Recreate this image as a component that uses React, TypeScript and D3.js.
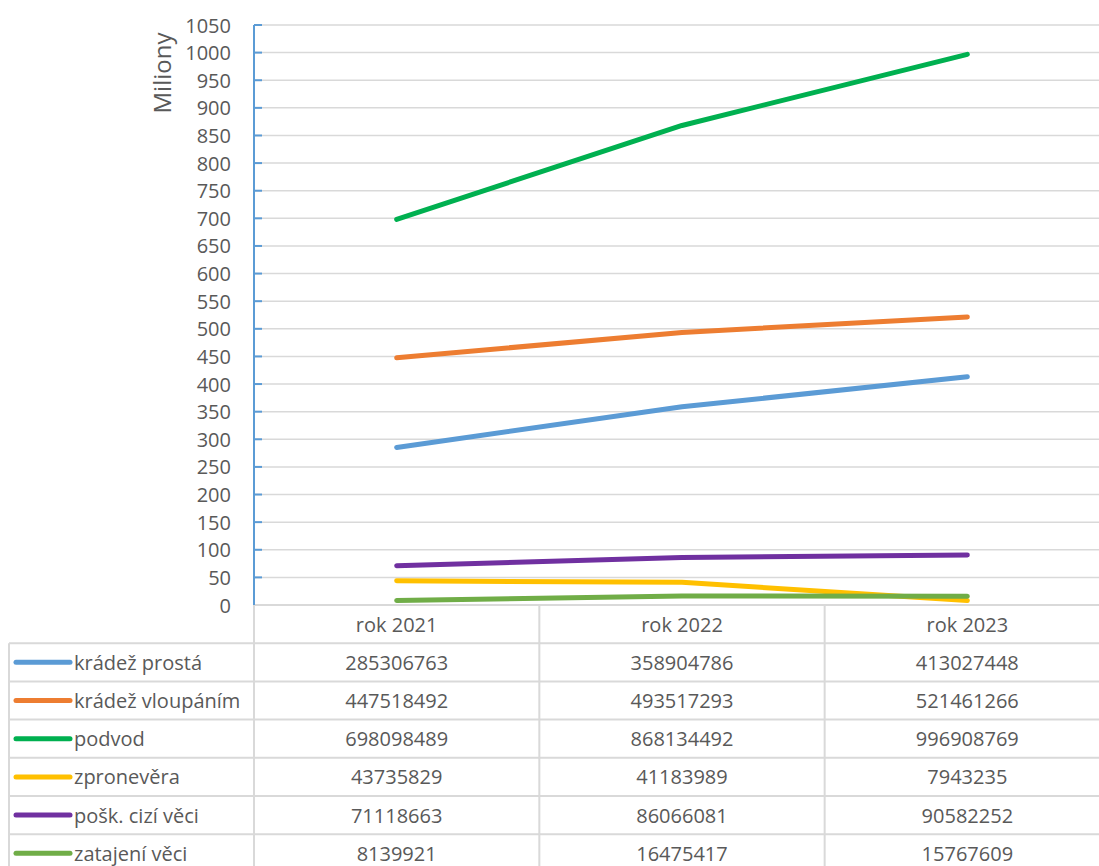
import * as d3 from 'd3';

const categories = ['rok 2021', 'rok 2022', 'rok 2023'];
const seriesNames = ['krádež prostá', 'krádež vloupáním', 'podvod', 'zpronevěra', 'pošk. cizí věci', 'zatajení věci'];
const seriesColors = ['#5B9BD5', '#ED7D31', '#00B050', '#FFC000', '#7030A0', '#70AD47'];
const kradezProsta = [285306763, 358904786, 413027448];
const kradezVloupanim = [447518492, 493517293, 521461266];
const podvod = [698098489, 868134492, 996908769];
const zpronevera = [43735829, 41183989, 7943235];
const poskCiziVeci = [71118663, 86066081, 90582252];
const zatajeniVeci = [8139921, 16475417, 15767609];
const seriesValues = [kradezProsta, kradezVloupanim, podvod, zpronevera, poskCiziVeci, zatajeniVeci];
const yTicks = d3.range(0, 1051, 50);

const W = 1099;
const H = 866;
const plotLeft = 254;
const plotRight = 1110;
const plotTop = 25;
const plotBottom = 605;
const tableLeft = 9;
const rowH = 38.2;
const font = '"Open Sans", sans-serif';
const textColor = '#595959';
const gridColor = '#d9d9d9';

export default function App() {
  const x = d3.scaleBand<string>().domain(categories).range([plotLeft, plotRight]);
  const y = d3.scaleLinear().domain([0, 1050]).range([plotBottom, plotTop]);
  const line = d3
    .line<number>()
    .x((_, i) => (x(categories[i]) as number) + x.bandwidth() / 2)
    .y((v) => y(v / 1e6));

  const rowTop = (i: number) => plotBottom + rowH * (i + 1);
  const hLines = d3.range(0, seriesNames.length + 1).map((i) => rowTop(i));
  const vLines = categories.map((c) => x(c) as number).concat([plotRight]);

  return (
    <svg width={W} height={H} style={{ position: 'absolute', left: 0, top: 0, background: '#fff' }}>
      {/* gridlines */}
      {yTicks.filter((t) => t > 0).map((t) => (
        <line key={t} x1={plotLeft} x2={plotRight} y1={y(t)} y2={y(t)} stroke={gridColor} strokeWidth={1.5} />
      ))}

      {/* table */}
      <line x1={plotLeft} x2={plotRight} y1={plotBottom} y2={plotBottom} stroke={gridColor} strokeWidth={2} />
      {hLines.map((yy, i) => (
        <line key={'h' + i} x1={tableLeft} x2={plotRight} y1={yy} y2={yy} stroke={gridColor} strokeWidth={2} />
      ))}
      {vLines.map((xx, i) => (
        <line key={'v' + i} x1={xx} x2={xx} y1={plotBottom} y2={H} stroke={gridColor} strokeWidth={2} />
      ))}
      <line x1={tableLeft} x2={tableLeft} y1={rowTop(0)} y2={H} stroke={gridColor} strokeWidth={2} />

      {categories.map((c) => (
        <text
          key={c}
          x={(x(c) as number) + x.bandwidth() / 2}
          y={plotBottom + rowH / 2}
          textAnchor="middle"
          dominantBaseline="central"
          fontFamily={font}
          fontSize={20}
          fill={textColor}
        >
          {c}
        </text>
      ))}

      {seriesNames.map((name, si) => {
        const cy = rowTop(si) + rowH / 2;
        return (
          <g key={name}>
            <line x1={16} x2={70} y1={cy} y2={cy} stroke={seriesColors[si]} strokeWidth={5} strokeLinecap="round" />
            <text x={74} y={cy} dominantBaseline="central" fontFamily={font} fontSize={20} fill={textColor}>
              {name}
            </text>
            {seriesValues[si].map((v, ci) => (
              <text
                key={ci}
                x={(x(categories[ci]) as number) + x.bandwidth() / 2}
                y={cy}
                textAnchor="middle"
                dominantBaseline="central"
                fontFamily={font}
                fontSize={20}
                fill={textColor}
              >
                {v}
              </text>
            ))}
          </g>
        );
      })}

      {/* y axis */}
      <line x1={plotLeft} x2={plotLeft} y1={plotTop} y2={plotBottom} stroke="#5B9BD5" strokeWidth={2} />
      {yTicks.map((t) => (
        <g key={'t' + t}>
          {t > 0 && <line x1={plotLeft} x2={plotLeft + 8} y1={y(t)} y2={y(t)} stroke="#5B9BD5" strokeWidth={2} />}
          <text
            x={231}
            y={y(t)}
            textAnchor="end"
            dominantBaseline="central"
            fontFamily={font}
            fontSize={20}
            fill={textColor}
          >
            {t}
          </text>
        </g>
      ))}
      <text
        transform={`translate(161,73) rotate(-90)`}
        textAnchor="middle"
        dominantBaseline="central"
        fontFamily={font}
        fontSize={24}
        fill={textColor}
      >
        Miliony
      </text>

      {/* series lines */}
      {seriesValues.map((vals, si) => (
        <path
          key={'s' + si}
          d={line(vals) as string}
          fill="none"
          stroke={seriesColors[si]}
          strokeWidth={5}
          strokeLinecap="round"
          strokeLinejoin="round"
        />
      ))}
    </svg>
  );
}
